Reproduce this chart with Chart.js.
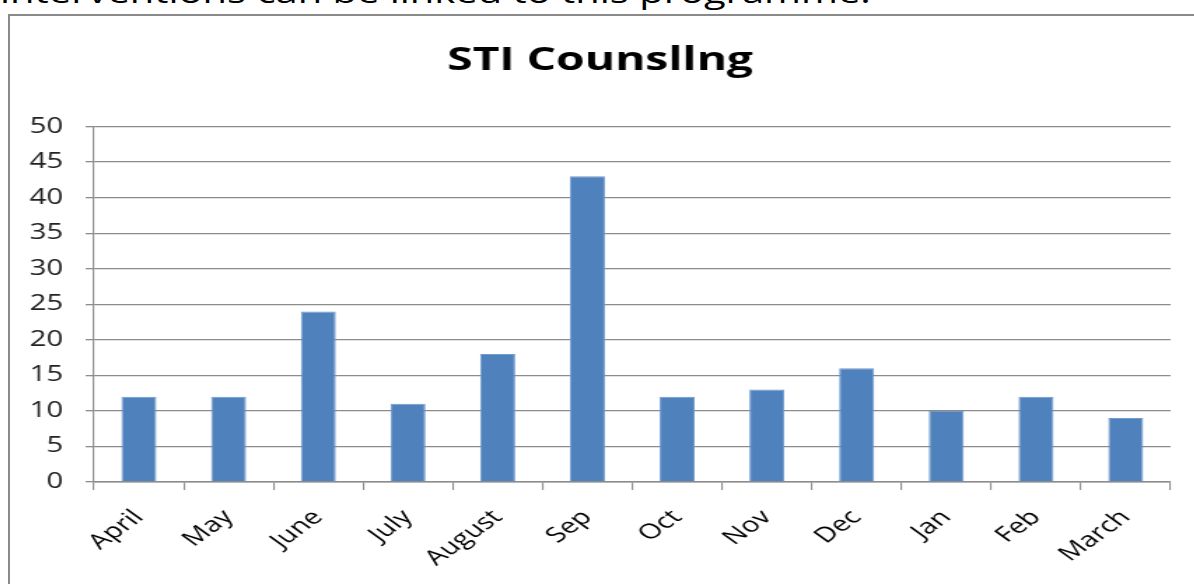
<!DOCTYPE html>
<html>
<head>
<meta charset="utf-8">
<script src="https://cdn.jsdelivr.net/npm/chart.js@4.4.0/dist/chart.umd.min.js"></script>
<style>
  body { margin: 0; width: 1194px; height: 584px; overflow: hidden; background: #fff; position: relative; }
  #lead { position: absolute; left: 0; top: -22px; font: 28.5px "Open Sans", sans-serif; line-height: 1; color: #000; white-space: nowrap; transform: scaleX(1.4); transform-origin: 0 0; }
  #box { position: absolute; left: 8px; top: 14px; width: 1200px; height: 600px; border: 2px solid #8a8a8a; box-sizing: border-box; }
  /* the source picture is stretched sideways, so the chart is drawn narrow and widened */
  #wrap { position: absolute; left: 0; top: 0; width: 847px; height: 570px; transform: scaleX(1.4); transform-origin: 0 0; }
</style>
</head>
<body>
<div id="lead">interventions can be linked to this programme.</div>
<div id="box">
  <div id="wrap"><canvas id="sti-chart"></canvas></div>
</div>
<script>
// months and counsellings done
const months = ["April", "May", "June", "July", "August", "Sep", "Oct", "Nov", "Dec", "Jan", "Feb", "March"];
const counselled = [12, 12, 24, 11, 18, 43, 12, 13, 16, 10, 12, 9];
const yTicks = [0, 5, 10, 15, 20, 25, 30, 35, 40, 45, 50];

const gridColor = '#8c8c8c';
const ctx = document.getElementById('sti-chart').getContext('2d');
const chart = new Chart(ctx, {
    type: 'bar',
    data: {
        labels: months,
        datasets: [{
            label: 'STI Counsllng',
            data: counselled,
            backgroundColor: '#4F81BD',
            borderColor: '#6f99cc',
            borderWidth: 1,
            barPercentage: 0.39,
            categoryPercentage: 1
        }]
    },
    options: {
        responsive: true,
        maintainAspectRatio: false,
        animation: false,
        layout: { padding: { left: 14, right: 18, top: 0, bottom: 0 } },
        plugins: {
            legend: { display: false },
            tooltip: { enabled: false },
            title: {
                display: true,
                text: 'STI Counsllng',
                color: '#000',
                font: { family: 'Open Sans', size: 33, weight: 'bold' },
                padding: { top: 25, bottom: 46 }
            }
        },
        scales: {
            x: {
                afterFit: (axis) => { axis.height = 104; axis.paddingLeft = 0; axis.paddingRight = 0; },
                grid: { drawOnChartArea: false, color: gridColor, lineWidth: 1.1, tickLength: 8, offset: true },
                border: { color: gridColor, width: 1.5 },
                ticks: {
                    color: '#000',
                    font: { family: 'Open Sans', size: 21 },
                    minRotation: 45,
                    maxRotation: 45,
                    padding: 15
                }
            },
            y: {
                min: 0,
                max: 50,
                afterBuildTicks: (axis) => { axis.ticks = yTicks.map(v => ({ value: v })); },
                afterFit: (axis) => { axis.width = 46; },
                grid: { color: gridColor, lineWidth: 1.3, tickLength: 6 },
                border: { color: gridColor, width: 1.1 },
                ticks: {
                    color: '#222',
                    font: { family: 'Open Sans', size: 21 },
                    padding: 16
                }
            }
        }
    }
});
</script>
</body>
</html>
